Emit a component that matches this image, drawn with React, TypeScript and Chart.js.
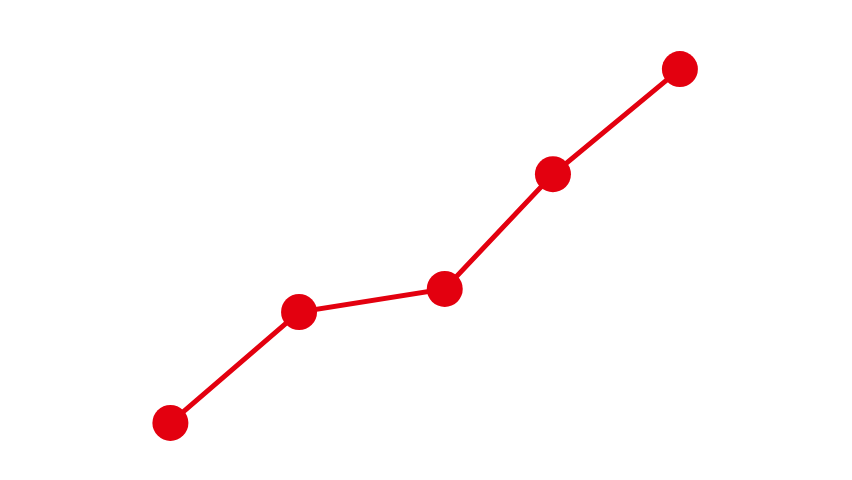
import { Chart, registerables } from "chart.js";
import { useEffect, useRef } from "react";

Chart.register(...registerables);

// x and y positions of the five points, on a 0–100 scale for both axes
const xValues = [20, 35.1, 52.2, 64.9, 79.8];
const yValues = [11.9, 35, 39.8, 63.7, 85.6];

const RED = "#e3000f";

export default function App() {
  const canvasRef = useRef<HTMLCanvasElement>(null);
  const chartRef = useRef<Chart | null>(null);

  useEffect(() => {
    if (!canvasRef.current) return;
    const points = xValues.map((x, i) => ({ x, y: yValues[i] }));

    chartRef.current = new Chart(canvasRef.current, {
      type: "line",
      data: {
        datasets: [
          {
            data: points,
            borderColor: RED,
            backgroundColor: RED,
            borderWidth: 5,
            pointRadius: 18,
            pointHoverRadius: 18,
            pointBackgroundColor: RED,
            pointBorderWidth: 0,
            tension: 0,
            clip: false,
          } as any,
        ],
      },
      options: {
        animation: false,
        responsive: true,
        maintainAspectRatio: false,
        layout: { padding: 0, autoPadding: false },
        plugins: {
          legend: { display: false },
          tooltip: { enabled: false },
          title: { display: false },
        },
        scales: {
          x: { type: "linear", min: 0, max: 100, display: false },
          y: { type: "linear", min: 0, max: 100, display: false },
        },
      },
    });

    return () => {
      chartRef.current?.destroy();
      chartRef.current = null;
    };
  }, []);

  return (
    <div style={{ position: "fixed", left: 0, top: 0, width: 852, height: 480, background: "#fff" }}>
      <canvas ref={canvasRef} />
    </div>
  );
}
